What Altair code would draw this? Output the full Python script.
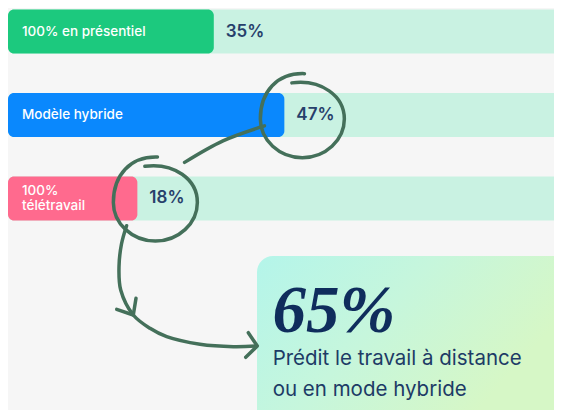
import altair as alt
import pandas as pd

# ---- data ----
categories = ["100% en présentiel", "Modèle hybride", "100%\ntélétravail"]
values = [35, 47, 18]
value_labels = ["35%", "47%", "18%"]
circled = [False, True, True]
rows = [0, 1, 2]

callout_value = ["65%"]
callout_lines = ["Prédit le travail à distance", "ou en mode hybride"]

# annotation geometry (x in %, y in row units)
callout_box = {"x0": [42.35], "x1": [100.0], "y0": [2.691], "y1": [5.2]}
callout_value_pos = {"x": [45.0], "y": [3.602]}
callout_lines_pos = {"x": [45.01, 45.01], "y": [3.998, 4.372]}
connector_x = [43.61, 36.56, 30.03]
connector_y = [1.130, 1.310, 1.568]
arrow_x = [20.17, 19.30, 18.88, 19.17, 21.31, 24.15, 26.99, 32.65, 38.32, 42.30]
arrow_y = [2.327, 2.547, 2.819, 3.098, 3.398, 3.558, 3.658, 3.749, 3.778, 3.770]
mid_head_x = [18.49, 21.31, 21.77]
mid_head_y = [3.330, 3.398, 3.198]
end_head_x = [40.87, 42.40, 40.43]
end_head_y = [3.610, 3.770, 3.905]

# ---- styling ----
bar_colors = ["#1cc97e", "#0a88fd", "#ff6a8e"]
BG = "#f6f6f6"
TRACK = "#c9f2e2"
INK = "#44705a"
NAVY = "#27406b"
FONT = "Inter"
W, H = 546, 402

xs = alt.Scale(domain=[0, 92.86], range=[0, W], nice=False, zero=False, padding=0)
ys = alt.Scale(domain=[-0.283, 4.537], range=[0, H], nice=False, zero=False, padding=0)

def X(field):
    return alt.X(field, type="quantitative", scale=xs, axis=None)

def Y(field):
    return alt.Y(field, type="quantitative", scale=ys, axis=None)

df = pd.DataFrame({
    "label": categories,
    "value": values,
    "pct": value_labels,
    "circled": circled,
    "row": rows,
})

base = alt.Chart(df).transform_calculate(
    disp="max(datum.value, 22)", zero="0", full="100",
    multiline="indexof(datum.label, '\\n') >= 0",
)

track = base.mark_bar(size=44, cornerRadius=6, color=TRACK, orient="horizontal").encode(
    x=X("zero"), x2=alt.X2("full:Q"), y=Y("row")
)

bars = base.mark_bar(size=44, cornerRadius=6, orient="horizontal").encode(
    x=X("zero"), x2=alt.X2("disp:Q"), y=Y("row"),
    color=alt.Color("label:N", scale=alt.Scale(domain=categories, range=bar_colors), legend=None),
)

label_style = dict(align="left", baseline="middle", dx=14, color="white", fontSize=13.5,
                   fontWeight=500, font=FONT, lineBreak="\n", lineHeight=15)

labels_one = base.transform_filter("!datum.multiline").mark_text(**label_style).encode(
    x=X("zero"), y=Y("row"), text="label:N")
labels_two = base.transform_filter("datum.multiline").mark_text(dy=-7, **label_style).encode(
    x=X("zero"), y=Y("row"), text="label:N")

pcts = base.mark_text(
    align="left", baseline="middle", dx=12, color=NAVY, fontSize=17,
    fontWeight=600, font=FONT,
).encode(x=X("disp"), y=Y("row"), text="pct:N")

LOOP = ("M-0.25,-0.86 C0.45,-0.95 1,-0.55 1,0 C1,0.5 0.55,0.92 0,0.92 "
        "C-0.55,0.92 -1,0.5 -1,0 C-1,-0.65 -0.6,-1.1 0.05,-1.08")

circles = base.transform_filter("datum.circled").mark_point(
    shape=LOOP, size=7056, filled=False, stroke=INK, strokeWidth=3.5,
    strokeCap="round", opacity=1, xOffset=18, yOffset=4,
).encode(x=X("disp"), y=Y("row"))

# annotation lines
ann = []
for name, xsq, ysq in [("connector", connector_x, connector_y), ("arrow", arrow_x, arrow_y),
                       ("mid", mid_head_x, mid_head_y), ("end", end_head_x, end_head_y)]:
    for i, (a, b) in enumerate(zip(xsq, ysq)):
        ann.append({"path": name, "i": i, "x": a, "y": b})
ann_df = pd.DataFrame(ann)

curves = alt.Chart(ann_df).transform_filter(
    "datum.path == 'connector' || datum.path == 'arrow'"
).mark_line(interpolate="catmull-rom", color=INK, strokeWidth=3.5, strokeCap="round").encode(
    x=X("x"), y=Y("y"), detail="path:N", order="i:Q"
)
heads = alt.Chart(ann_df).transform_filter(
    "datum.path == 'mid' || datum.path == 'end'"
).mark_line(color=INK, strokeWidth=3.5, strokeCap="round", strokeJoin="round").encode(
    x=X("x"), y=Y("y"), detail="path:N", order="i:Q"
)

gradient = alt.LinearGradient(
    gradient="linear",
    stops=[alt.GradientStop(color="#b4f5ea", offset=0),
           alt.GradientStop(color="#c6f6dc", offset=0.45),
           alt.GradientStop(color="#d6f7c6", offset=0.9)],
    x1=0, y1=0, x2=0.9, y2=0.5,
)

box = alt.Chart(pd.DataFrame(callout_box)).mark_rect(cornerRadius=16, fill=gradient).encode(
    x=X("x0"), x2=alt.X2("x1:Q"), y=Y("y0"), y2=alt.Y2("y1:Q")
)

big = alt.Chart(pd.DataFrame({"t": callout_value, **callout_value_pos})).mark_text(
    align="left", baseline="alphabetic", font="Liberation Serif", fontStyle="italic",
    fontWeight="bold", fontSize=67, color="#0f2d5c",
).encode(x=X("x"), y=Y("y"), text="t:N")

sub = alt.Chart(pd.DataFrame({"t": callout_lines, **callout_lines_pos})).mark_text(
    align="left", baseline="alphabetic", font=FONT, fontSize=20.5, color="#1d3b66",
).encode(x=X("x"), y=Y("y"), text="t:N")

chart = alt.layer(track, bars, labels_one, labels_two, pcts, circles, curves, box, heads,
                  big, sub).properties(
    width=W, height=H, padding=0, autosize="none", background=BG,
).configure_view(stroke=None)

chart.save("out.html", embed_options={"renderer": "svg", "actions": False})
